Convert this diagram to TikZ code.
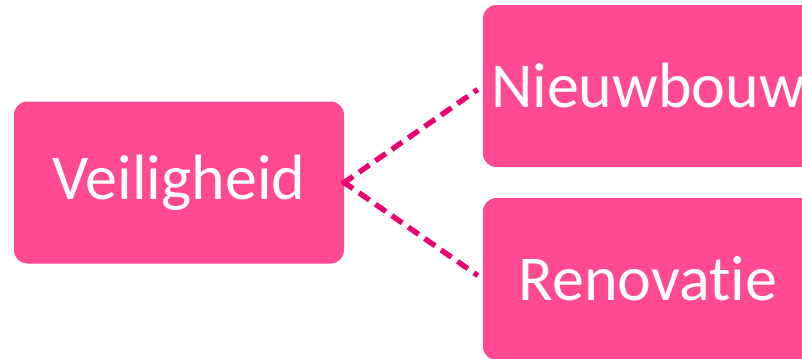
\documentclass[tikz,border=0pt]{standalone}
\usepackage{fontspec}
\setmainfont{Carlito}[Ligatures=CommonOff]
\definecolor{boxpink}{RGB}{255,73,144}
\definecolor{linkpink}{RGB}{234,0,110}
\tikzset{
  topic/.style={fill=boxpink, rounded corners=10pt, text=white,
    font=\fontsize{48}{52}\selectfont, minimum width=247.5pt,
    minimum height=121.5pt, inner sep=0pt},
  link/.style={linkpink, line width=4pt, dash pattern=on 9.5pt off 5.5pt}
}
\begin{document}
\begin{tikzpicture}[x=0.75pt, y=-0.75pt]
  \useasboundingbox (0, 0) rectangle (802, 358);
  \clip (0, 0) rectangle (802, 358);

  \node[topic] (veiligheid) at (179, 182.5) {Veiligheid};
  \node[topic] (nieuwbouw) at (648, 86) {Nieuwbouw};
  \node[topic] (renovatie) at (648, 279) {Renovatie};

  \draw[link, shorten >=4.5pt, shorten <=-1.5pt] (veiligheid.east) -- (nieuwbouw.west);
  \draw[link, shorten >=4.5pt, shorten <=-1.5pt] (veiligheid.east) -- (renovatie.west);
\end{tikzpicture}
\end{document}
